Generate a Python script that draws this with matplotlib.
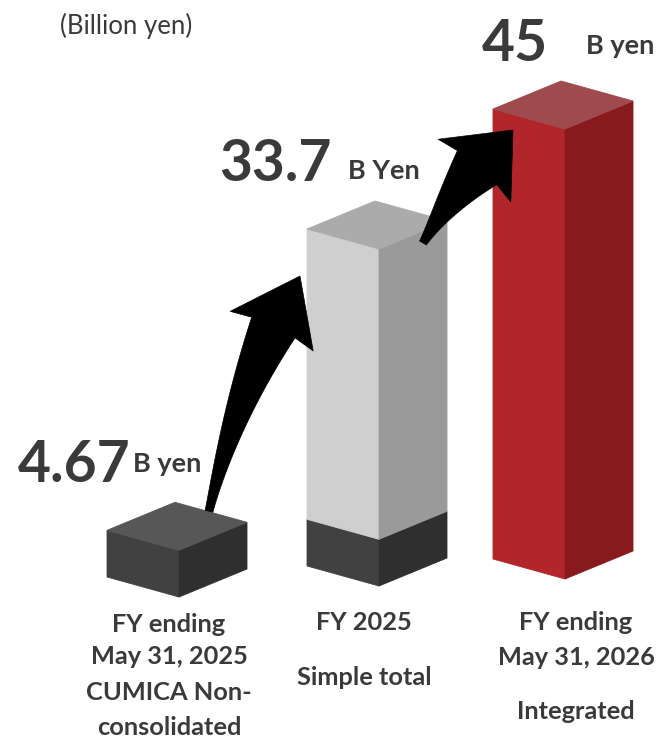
import numpy as np
import matplotlib
matplotlib.use("Agg")
import matplotlib.pyplot as plt
from matplotlib.patches import Polygon
from matplotlib.transforms import IdentityTransform

# ---------------- data (billion yen) ----------------
totals = [4.67, 33.7, 45.0]          # bar totals
cumica_part = [4.67, 4.67, 0.0]      # CUMICA standalone share inside each bar
unit_labels = ["B yen", "B Yen", "B yen"]
period_lines = [
    ["FY ending", "May 31, 2025", "CUMICA Non-", "consolidated"],
    ["FY 2025", "Simple total"],
    ["FY ending", "May 31, 2026", "Integrated"],
]
unit_note = "(Billion yen)"

# ---------------- layout / style ----------------
W, H, DPI = 661, 740, 100
PX_PER_UNIT = 10.0          # vertical pixels per billion yen
BASE_PX = 587               # ground line (image rows, from top)
bar_mid_x = [179, 379, 565]          # front vertical edge of each box
ground_shift_px = [10, -1, -8]       # perspective shift of each box's ground
LEFT_W, RIGHT_W = 72, 68             # widths of the two visible side faces
LEFT_RISE, RIGHT_RISE = 20, 28       # how far the side faces rise towards the back

dark = ("#414141", "#2f2f2f", "#575757")    # left, right, top
light = ("#cfcfcf", "#9a9a9a", "#ababab")
red = ("#b2262b", "#881a1e", "#9f4a4d")
text_col = "#3a3a3a"

FONT = ["Lato", "DejaVu Sans"]

fig = plt.figure(figsize=(W / DPI, H / DPI), dpi=DPI)
ax = fig.add_axes([0, 0, 1, 1])
ax.set_xlim(0, W)
ax.set_ylim((BASE_PX - H) / PX_PER_UNIT, BASE_PX / PX_PER_UNIT)
ax.axis("off")

dl = LEFT_RISE / PX_PER_UNIT
dr = RIGHT_RISE / PX_PER_UNIT


def draw_box(xm, y0, y1, cols, top=True):
    left = [(xm - LEFT_W, y0 + dl), (xm, y0), (xm, y1), (xm - LEFT_W, y1 + dl)]
    right = [(xm, y0), (xm + RIGHT_W, y0 + dr), (xm + RIGHT_W, y1 + dr), (xm, y1)]
    ax.add_patch(Polygon(left, closed=True, fc=cols[0], ec=cols[0], lw=0.6, zorder=2))
    ax.add_patch(Polygon(right, closed=True, fc=cols[1], ec=cols[1], lw=0.6, zorder=2))
    if top:
        tp = [(xm, y1), (xm - LEFT_W, y1 + dl),
              (xm - LEFT_W + RIGHT_W, y1 + dl + dr), (xm + RIGHT_W, y1 + dr)]
        ax.add_patch(Polygon(tp, closed=True, fc=cols[2], ec=cols[2], lw=0.6, zorder=3))


bar_colors = [(dark, None), (dark, light), (red, None)]
bases = [-g / PX_PER_UNIT for g in ground_shift_px]
tops = []
for i, (xm, tot, part) in enumerate(zip(bar_mid_x, totals, cumica_part)):
    b = bases[i]
    low, high = bar_colors[i]
    if high is None:
        draw_box(xm, b, b + tot, low)
    else:
        draw_box(xm, b, b + part, low, top=False)
        draw_box(xm, b + part, b + tot, high)
    tops.append(b + tot)


# ---------------- growth arrows ----------------
def arrow_polygon(p0, p2, bend, w_tail, w_shaft, head_w, head_len):
    p0 = np.asarray(p0, float)
    p2 = np.asarray(p2, float)
    chord = p2 - p0
    L = np.hypot(*chord)
    u = chord / L
    nrm = np.array([-u[1], u[0]])
    ctrl = (p0 + p2) / 2 + nrm * bend * L

    def bez(t):
        t = np.atleast_1d(t)[:, None]
        return (1 - t) ** 2 * p0 + 2 * (1 - t) * t * ctrl + t ** 2 * p2

    def dbez(t):
        t = np.atleast_1d(t)[:, None]
        return 2 * (1 - t) * (ctrl - p0) + 2 * t * (p2 - ctrl)

    tt = np.linspace(0, 1, 600)
    pts = bez(tt)
    seg = np.hypot(*np.diff(pts, axis=0).T)
    s = np.concatenate([[0], np.cumsum(seg)])
    t_h = np.interp(s[-1] - head_len, s, tt)

    ts = np.linspace(0, t_h, 80)
    sp = bez(ts)
    d = dbez(ts)
    d /= np.hypot(d[:, 0], d[:, 1])[:, None]
    n = np.stack([-d[:, 1], d[:, 0]], axis=1)
    frac = np.linspace(0, 1, len(ts))
    w = w_tail + (w_shaft - w_tail) * frac ** 1.3
    left = sp + n * (w / 2)[:, None]
    right = sp - n * (w / 2)[:, None]

    hb = sp[-1]
    hd = d[-1]
    hn = n[-1]
    barb_l = hb + hn * head_w / 2 - hd * 4
    barb_r = hb - hn * head_w / 2 - hd * 4
    poly = np.vstack([right, barb_r[None], p2[None], barb_l[None], left[::-1]])
    return poly


to_disp = ax.transData.transform
arrow_specs = [
    # (from bar, tail offset px from its top edge, tip offset px from next bar's top-left corner)
    (0, (30, 39), (-7, -47), 0.07, 8, 48, 92, 58),
    (1, (44, 6), (20, -21), 0.07, 8, 52, 96, 52),
]
for i, toff, hoff, bend, wt, ws, hw, hl in arrow_specs:
    tail = to_disp((bar_mid_x[i], tops[i])) + np.array(toff)
    corner = to_disp((bar_mid_x[i + 1] - LEFT_W, tops[i + 1] + dl))
    tip = corner + np.array(hoff)
    poly = arrow_polygon(tail, tip, bend, wt, ws, hw, hl)
    ax.add_patch(Polygon(poly, closed=True, fc="black", ec="black", lw=0.5,
                         transform=IdentityTransform(), zorder=5))


# ---------------- texts ----------------
def ftext(x_px, y_px, s, **kw):
    fig.text(x_px / W, 1 - y_px / H, s, color=text_col, family=FONT, **kw)


ftext(60, 34, unit_note, fontsize=18.5, ha="left", va="baseline")

# value labels sit a fixed gap above the back corner of each box's top face
LABEL_GAP_PX = 20
value_x = [(18, 133), (219, 348), (482, 586)]
unit_drop_px = [10, 2, 7]
for i, (v, unit, (vx, ux)) in enumerate(zip(totals, unit_labels, value_x)):
    back_corner = to_disp((bar_mid_x[i] - LEFT_W + RIGHT_W, tops[i] + dl + dr))
    vy = H - back_corner[1] - LABEL_GAP_PX
    ftext(vx, vy, f"{v:g}", fontsize=41, fontweight="bold", ha="left", va="baseline")
    ftext(ux, vy - unit_drop_px[i], unit, fontsize=19.5, fontweight="bold",
          ha="left", va="baseline")

label_x = [169, 364, 576]
label_baselines = [[632, 664, 700, 735], [630, 685], [630, 665, 719]]
for x, lines, ys in zip(label_x, period_lines, label_baselines):
    for line, y in zip(lines, ys):
        ftext(x, y, line, fontsize=18.3, fontweight="bold", ha="center", va="baseline")

fig.savefig("out.png", dpi=DPI)
